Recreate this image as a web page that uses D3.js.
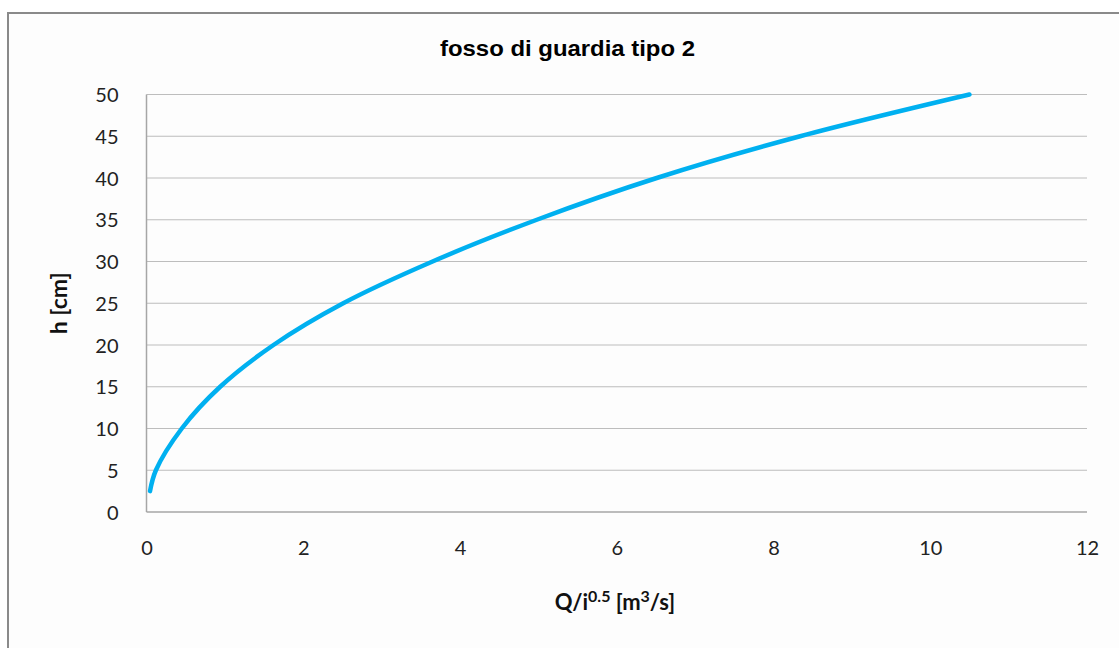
<!DOCTYPE html>
<html>
<head>
<meta charset="utf-8">
<script src="https://cdn.jsdelivr.net/npm/d3@7"></script>
<style>
  html, body { margin: 0; padding: 0; background: #ffffff; }
  svg { display: block; }
</style>
</head>
<body>
<svg id="chart" width="1119" height="648"></svg>
<script>
// ---- data ----
const hValues = [2.5, 5, 10, 15, 20, 25, 30, 35, 40, 45, 50];               // h [cm]
const qValues = [0.045, 0.12, 0.45, 0.94, 1.62, 2.51, 3.65, 4.98, 6.51, 8.34, 10.5]; // Q/i^0.5 [m3/s]
const xTicks = [0, 2, 4, 6, 8, 10, 12];
const yTicks = [0, 5, 10, 15, 20, 25, 30, 35, 40, 45, 50];
const titleText = "fosso di guardia tipo 2";

const points = hValues.map((h, i) => ({ q: qValues[i], h: h }));

const svg = d3.select("#chart");
const W = 1119, H = 648;
const plot = { left: 146.5, right: 1087, top: 94.5, bottom: 512 };

// outer chart frame (continues past right/bottom edges of the picture)
svg.append("rect")
  .attr("x", 0).attr("y", 0).attr("width", W).attr("height", H)
  .attr("fill", "#ffffff");
svg.append("rect")
  .attr("x", 8).attr("y", 13).attr("width", W + 20).attr("height", H + 20)
  .attr("fill", "#fdfdfd")
  .attr("stroke", "#8a8a8a").attr("stroke-width", 2);

const x = d3.scaleLinear().domain([0, 12]).range([plot.left, plot.right]);
const y = d3.scaleLinear().domain([0, 50]).range([plot.bottom, plot.top]);

// gridlines
svg.append("g")
  .selectAll("line")
  .data(yTicks.filter(d => d > 0))
  .join("line")
  .attr("x1", plot.left).attr("x2", plot.right)
  .attr("y1", d => y(d)).attr("y2", d => y(d))
  .attr("stroke", "#bdbdbd").attr("stroke-width", 1.2);

// y axis (labels only)
const yAxis = d3.axisLeft(y).tickValues(yTicks).tickSize(0).tickPadding(28);
const gy = svg.append("g").attr("transform", `translate(${plot.left},0)`).call(yAxis);
gy.select(".domain").remove();
gy.selectAll("text")
  .attr("font-family", "Lato, 'Open Sans', sans-serif")
  .attr("font-size", 20)
  .attr("fill", "#222")
  .attr("dy", "0.36em");

// x axis
const xAxis = d3.axisBottom(x).tickValues(xTicks).tickSize(0).tickPadding(29);
const gx = svg.append("g").attr("transform", `translate(0,${plot.bottom})`).call(xAxis);
gx.select(".domain").remove();
gx.selectAll("text")
  .attr("font-family", "Lato, 'Open Sans', sans-serif")
  .attr("font-size", 20)
  .attr("fill", "#222");

// axis lines
svg.append("line")
  .attr("x1", plot.left).attr("x2", plot.left)
  .attr("y1", plot.top).attr("y2", plot.bottom)
  .attr("stroke", "#a6a6a6").attr("stroke-width", 1.5);
svg.append("line")
  .attr("x1", plot.left).attr("x2", plot.right)
  .attr("y1", plot.bottom).attr("y2", plot.bottom)
  .attr("stroke", "#a6a6a6").attr("stroke-width", 1.5);

// curve
const line = d3.line()
  .x(d => x(d.q))
  .y(d => y(d.h))
  .curve(d3.curveCatmullRom.alpha(0.5));
svg.append("path")
  .datum(points)
  .attr("d", line)
  .attr("fill", "none")
  .attr("stroke", "#00b0f0")
  .attr("stroke-width", 4.5)
  .attr("stroke-linecap", "round")
  .attr("stroke-linejoin", "round");

// title
svg.append("text")
  .attr("x", 567.5).attr("y", 56)
  .attr("text-anchor", "middle")
  .attr("font-family", "'Liberation Sans', Arial, sans-serif")
  .attr("font-weight", "bold")
  .attr("font-size", 22)
  .attr("textLength", 255)
  .attr("lengthAdjust", "spacingAndGlyphs")
  .attr("fill", "#000")
  .text(titleText);

// x axis title with superscripts
const xt = svg.append("text")
  .attr("x", 615).attr("y", 610)
  .attr("text-anchor", "middle")
  .attr("font-family", "Lato, 'Open Sans', sans-serif")
  .attr("font-weight", "bold")
  .attr("font-size", 22)
  .attr("fill", "#111");
xt.append("tspan").text("Q/i");
xt.append("tspan").attr("font-size", 16).attr("dy", -8).text("0.5");
xt.append("tspan").attr("dy", 8).text(" [m");
xt.append("tspan").attr("font-size", 16).attr("dy", -8).text("3");
xt.append("tspan").attr("dy", 8).text("/s]");

// y axis title
svg.append("text")
  .attr("transform", `translate(67,${(plot.top + plot.bottom) / 2}) rotate(-90)`)
  .attr("text-anchor", "middle")
  .attr("font-family", "Lato, 'Open Sans', sans-serif")
  .attr("font-weight", "bold")
  .attr("font-size", 23)
  .attr("fill", "#111")
  .text("h [cm]");
</script>
</body>
</html>
